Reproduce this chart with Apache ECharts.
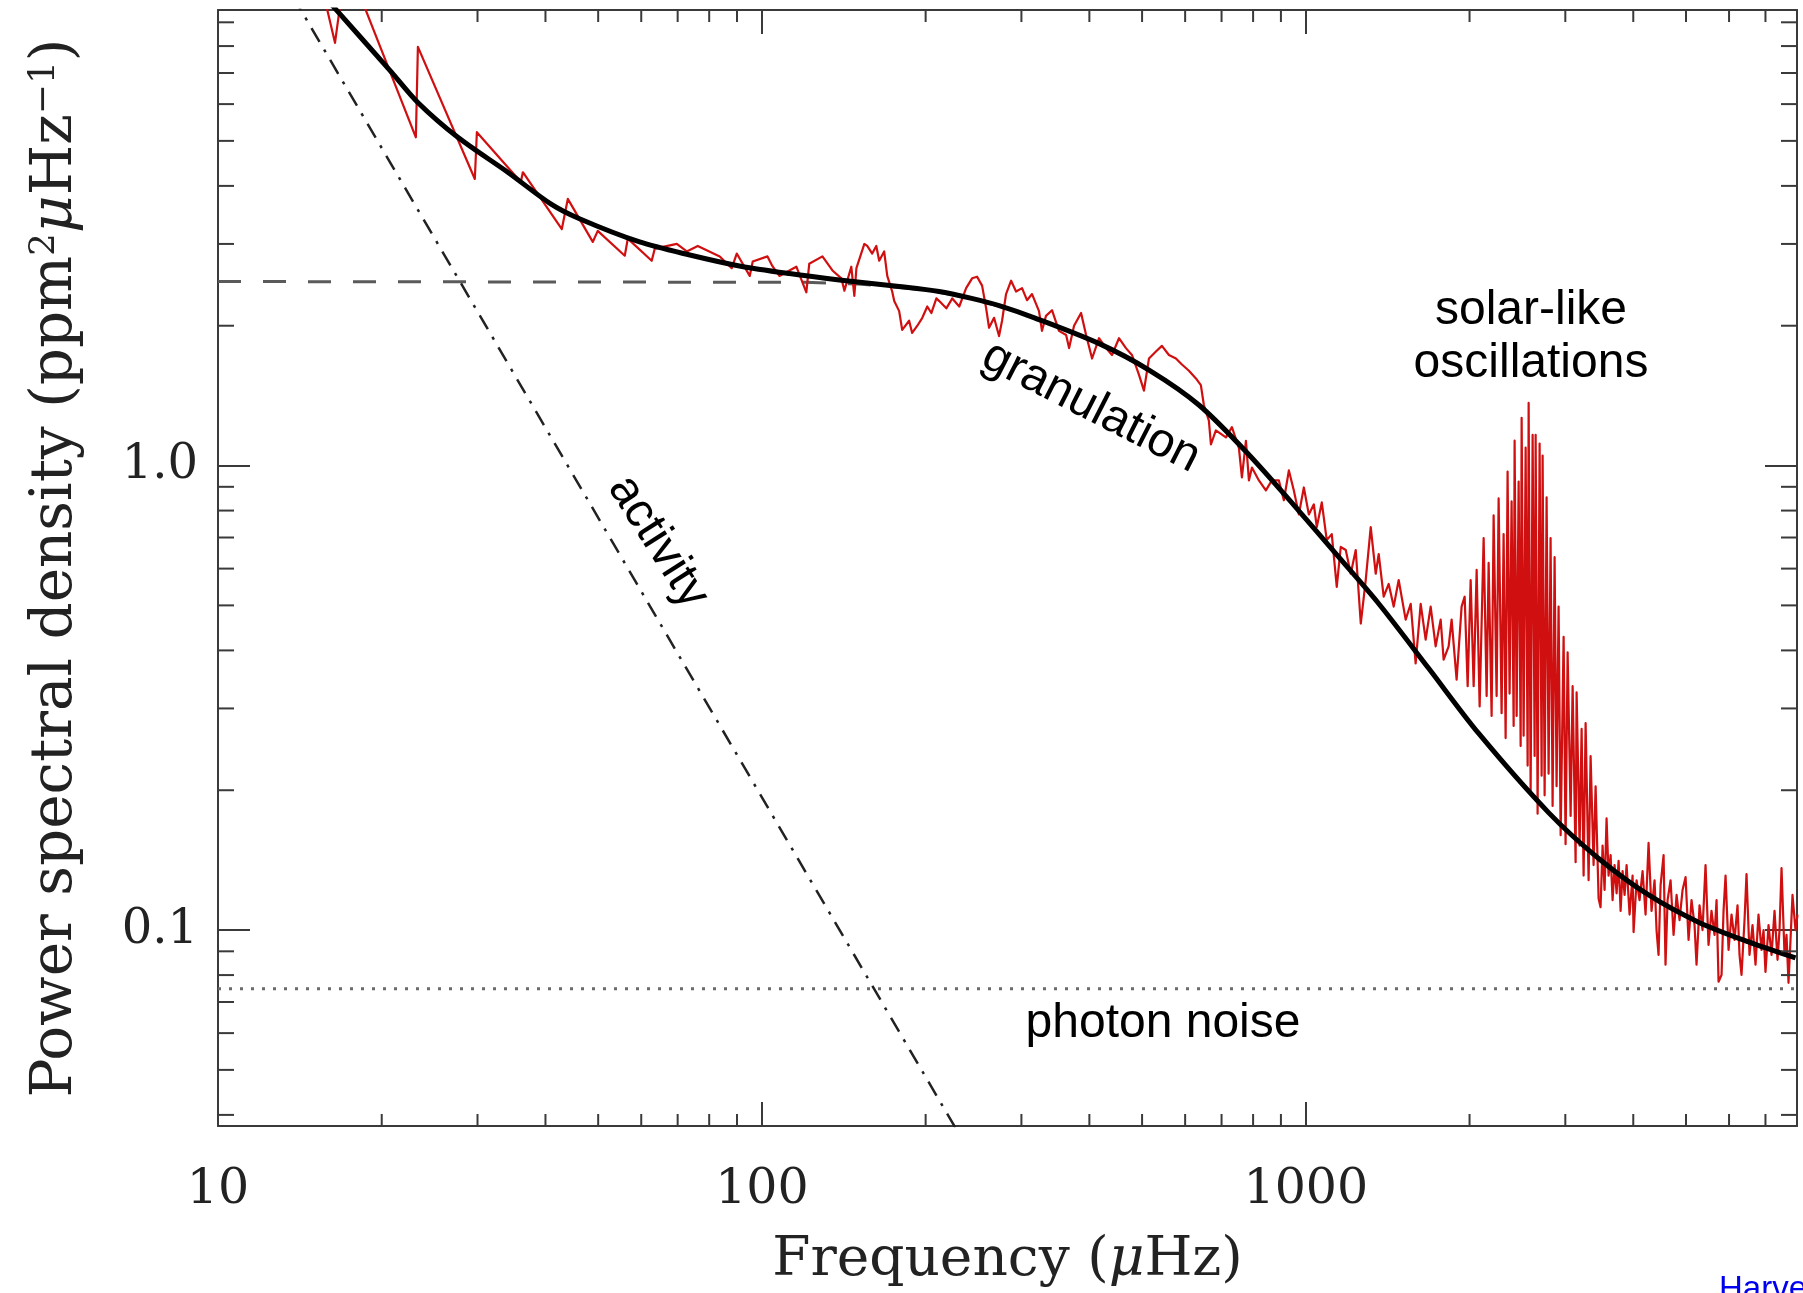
<!DOCTYPE html>
<html>
<head>
<meta charset="utf-8">
<script src="https://cdn.jsdelivr.net/npm/echarts@6/dist/echarts.min.js"></script>
<style>
  html, body { margin: 0; padding: 0; background: #ffffff; }
  #chart { width: 1803px; height: 1293px; }
</style>
</head>
<body>
<div id="chart"></div>
<script>
// ---------------- data (frequency in µHz, power in ppm^2/µHz) ----------------
const redSawtooth = [
  [15.27,11.65],[16.41,8.13],[17.11,11.65],[17.93,10.82],[23.11,5.09],[23.31,7.97],[29.66,4.14],[29.92,5.22],
  [36.04,4.08],[36.35,4.28],[42.87,3.23],[43.97,3.75],[48.87,3.03],[49.91,3.20],[55.96,2.83],[56.68,3.08],
  [62.72,2.76],[63.53,2.93],[69.75,3.00],[72.76,2.89],[76.22,2.97],[83.66,2.82],[88.02,2.66],[89.90,2.86],
  [94.98,2.56],[96.19,2.75],[102.4,2.82],[104.5,2.69],[107.7,2.56],[115.7,2.68],[120.7,2.36],[122.2,2.72],
  [129.2,2.82],[134.8,2.63],[140.0,2.53],[141.8,2.38],[146.0,2.68],[147.9,2.32],[149.2,2.66]
];
const redGranulation = [
  [154.3,3.00],[156.2,2.97],[159.5,2.86],[162.3,2.97],[164.3,2.76],[167.8,2.89],[170.0,2.56],[173.6,2.37],
  [175.1,2.26],[178.8,2.15],[181.1,1.96],[186.5,2.05],[188.9,1.93],[193.1,2.00],[197.2,2.08],[201.4,2.20],
  [204.9,2.13],[209.3,2.29],[211.9,2.26],[218.3,2.18],[223.9,2.29],[230.6,2.20],[237.4,2.41],[243.5,2.53],
  [248.7,2.55],[254.0,2.44],[258.4,2.18],[261.6,1.98],[267.2,2.08],[272.9,1.90],[276.4,2.05],[281.1,2.34],
  [287.2,2.50],[293.3,2.37],[300.8,2.41],[307.2,2.27],[313.8,2.34],[323.2,2.15],[327.3,1.95],[332.9,2.10],
  [341.5,2.16],[351.7,1.95],[362.5,1.91],[367.1,1.79],[374.9,2.00],[386.2,2.13],[394.5,1.91],[404.6,1.70],
  [416.7,1.88],[429.3,1.79],[440.3,1.73],[453.4,1.88],[467.0,1.79],[479.0,1.73],[493.4,1.57],[504.0,1.45],
  [514.8,1.70],[530.2,1.76],[543.8,1.81],[560.2,1.73],[577.1,1.70],[591.9,1.65],[609.7,1.60],[628.0,1.54],
  [641.3,1.49],[649.5,1.35],[663.4,1.25],[669.2,1.11],[683.3,1.19],[713.1,1.15],[731.4,1.21],[753.4,1.09],
  [763.0,0.943],[776.1,1.13],[786.0,0.929],[796.0,0.990],[819.9,0.929],[844.5,0.884],[866.2,0.929],[892.3,0.929],
  [911.3,0.842],[930.8,0.976],[950.6,0.884],[971.0,0.785],[991.7,0.897]
];
const redDecline = [
  [1012.9,0.785],[1034.7,0.825],[1047.6,0.737],[1070.0,0.833],[1092.8,0.691],[1116.2,0.712],[1140.0,0.548],
  [1159.5,0.668],[1184.3,0.658],[1209.5,0.585],[1235.4,0.658],[1262.0,0.457],[1288.7,0.567],[1316.3,0.737],
  [1344.4,0.585],[1361.6,0.645],[1390.6,0.522],[1420.4,0.556],[1450.7,0.497],[1481.7,0.567],[1526.2,0.466],
  [1559.1,0.504],[1592.0,0.375],[1626.3,0.504],[1661.0,0.422],[1696.5,0.497],[1732.8,0.408],[1769.8,0.466],
  [1792.3,0.382],[1830.7,0.408],[1853.9,0.466],[1893.5,0.346],[1934.0,0.497]
];
const redOscillation = [
  [1959.2,0.522],[1984.2,0.335],[2009.5,0.567],[2035.1,0.335],[2061.1,0.596],[2087.4,0.303],[2123.0,0.698],
  [2150.1,0.319],[2168.4,0.617],[2196.0,0.289],[2214.7,0.781],[2242.9,0.319],[2262.1,0.850],[2290.8,0.293],
  [2310.3,0.712],[2330.1,0.259],[2349.6,0.971],[2369.5,0.323],[2389.7,0.837],[2410.5,0.275],[2420.4,1.131],
  [2441.4,0.289],[2462.1,0.924],[2483.1,0.249],[2493.6,1.267],[2514.6,0.262],[2536.1,1.093],[2557.6,0.226],
  [2568.6,1.364],[2590.3,0.198],[2612.3,1.165],[2634.5,0.237],[2645.8,1.165],[2668.0,0.178],[2690.6,1.115],
  [2713.5,0.215],[2725.1,1.051],[2748.3,0.195],[2771.5,0.854],[2795.2,0.217],[2818.6,0.698],[2842.8,0.185],
  [2866.9,0.635],[2891.1,0.204],[2915.8,0.497],[2941.2,0.160],[2978.5,0.428],[3003.2,0.153],[3029.5,0.396],
  [3068.2,0.176],[3094.2,0.335],[3133.7,0.140],[3147.0,0.325],[3187.1,0.152],[3214.3,0.271],[3241.5,0.131],
  [3269.2,0.279],[3310.8,0.128],[3338.9,0.237],[3381.4,0.138],[3410.4,0.204],[3453.9,0.117]
];
const redHighFreq = [
  [3482.8,0.112],[3512.7,0.152],[3542.5,0.122],[3572.4,0.174],[3602.8,0.131],[3634.2,0.145],[3664.7,0.116],
  [3695.5,0.138],[3727.5,0.120],[3759.1,0.141],[3791.1,0.110],[3823.3,0.134],[3855.7,0.119],[3888.5,0.138],
  [3938.1,0.108],[3988.4,0.131],[4005.2,0.099],[4056.3,0.128],[4108.1,0.116],[4160.6,0.134],[4214.0,0.108],
  [4267.6,0.154],[4321.8,0.110],[4377.2,0.128],[4414.1,0.100],[4451.7,0.0884],[4490.5,0.125],[4547.6,0.145],
  [4585.2,0.0842],[4625.3,0.116],[4684.4,0.128],[4744.0,0.0976],[4804.8,0.119],[4866.0,0.105],[4928.2,0.122],
  [4991.3,0.130],[5054.9,0.0952],[5119.2,0.116],[5184.7,0.1025],[5228.5,0.0842],[5295.3,0.113],[5363.0,0.100],
  [5431.6,0.138],[5500.7,0.0929],[5570.7,0.110],[5642.1,0.0976],[5691.1,0.116],[5739.4,0.0774],[5812.7,0.0801],
  [5861.8,0.110],[5911.9,0.131],[5987.6,0.0906],[6063.6,0.108],[6141.3,0.0952],[6219.2,0.113],[6272.1,0.0884],
  [6325.4,0.0801],[6406.4,0.105],[6460.6,0.132],[6543.0,0.0884],[6626.7,0.1025],[6711.5,0.0842],[6796.8,0.108],
  [6883.4,0.0906],[6943.1,0.100],[7000.6,0.0813],[7091.8,0.1025],[7182.4,0.0884],[7274.0,0.110],[7366.8,0.0863],
  [7429.4,0.100],[7492.6,0.136],[7588.4,0.0884],[7652.5,0.0976],[7717.7,0.0770],[7783.1,0.0952],[7849.2,0.119],
  [7949.8,0.100],[8017.2,0.108]
];

const fitFreq  = [14, 16.5, 20.8, 23.3, 27.6, 34.1, 40.9, 46.2, 59.6, 73.7, 90.9, 112.3, 138.8, 178.8, 211.8, 243, 273, 317, 417, 515, 636, 786, 970, 1150, 1362, 1682, 2079, 2795, 3454, 4268, 5273, 6516, 7950];
const fitPower = [11.9, 9.57, 7.05, 6.05, 5.09, 4.28, 3.66, 3.40, 3.03, 2.84, 2.69, 2.59, 2.51, 2.43, 2.37, 2.29, 2.21, 2.08, 1.83, 1.605, 1.35, 1.055, 0.80, 0.635, 0.504, 0.366, 0.265, 0.179, 0.1426, 0.119, 0.104, 0.0943, 0.0871];

const granFreq  = [10, 120, 150, 200, 240, 270];
const granPower = [2.49, 2.48, 2.46, 2.39, 2.30, 2.21];

const activityFreq  = [10, 250];
const activityPower = [19.3, 0.0309];

const photonNoiseFreq  = [10, 8000];
const photonNoiseLevel = 0.0748;

const xRange = [10, 8000];
const yRange = [0.03786, 9.566];
const xMinorTicks = [20, 30, 40, 50, 60, 70, 80, 90, 200, 300, 400, 500, 600, 700, 800, 900, 2000, 3000, 4000, 5000, 6000, 7000];
const yMinorTicks = [0.04, 0.05, 0.06, 0.07, 0.08, 0.09, 0.2, 0.3, 0.4, 0.5, 0.6, 0.7, 0.8, 0.9, 2, 3, 4, 5, 6, 7, 8, 9];

const annotations = [
  { text: 'solar-like',   x: 1531, y: 311,  angle: 0 },
  { text: 'oscillations', x: 1531, y: 364,  angle: 0 },
  { text: 'granulation',  x: 1091, y: 407,  angle: -27 },
  { text: 'activity',     x: 658,  y: 542,  angle: -57.5 },
  { text: 'photon noise', x: 1163, y: 1024, angle: 0 }
];

// ---------------- styling ----------------
const AXIS_COLOR = '#3a3a3a';
const SERIF = '"DejaVu Serif", "Liberation Serif", serif';
const SANS = '"Liberation Sans", Arial, sans-serif';
const X_MAJOR_LEN = 24, Y_MAJOR_LEN = 32, X_MINOR_LEN = 12, Y_MINOR_LEN = 16;

const zip = (xs, ys) => xs.map((x, i) => [x, ys[i]]);
const redSpectrum = [].concat(redSawtooth, redGranulation, redDecline, redOscillation, redHighFreq);

function minorTickSeries(pairs, isX) {
  return {
    type: 'custom',
    silent: true,
    z: 6,
    data: pairs,
    renderItem: function (params, api) {
      const cs = params.coordSys;
      const p = api.coord([api.value(0), api.value(1)]);
      const st = { stroke: AXIS_COLOR, lineWidth: 2 };
      if (isX) {
        const yb = cs.y + cs.height, yt = cs.y;
        return { type: 'group', children: [
          { type: 'line', shape: { x1: p[0], y1: yb, x2: p[0], y2: yb - X_MINOR_LEN }, style: st },
          { type: 'line', shape: { x1: p[0], y1: yt, x2: p[0], y2: yt + X_MINOR_LEN }, style: st }
        ]};
      }
      const xl = cs.x, xr = cs.x + cs.width;
      return { type: 'group', children: [
        { type: 'line', shape: { x1: xl, y1: p[1], x2: xl + Y_MINOR_LEN, y2: p[1] }, style: st },
        { type: 'line', shape: { x1: xr, y1: p[1], x2: xr - Y_MINOR_LEN, y2: p[1] }, style: st }
      ]};
    }
  };
}

const axisLineStyle = { show: true, lineStyle: { color: AXIS_COLOR, width: 2 } };

const chart = echarts.init(document.getElementById('chart'), null, { renderer: 'canvas' });
chart.setOption({
  animation: false,
  backgroundColor: '#ffffff',
  grid: { left: 218, right: 6, top: 10, bottom: 161, containLabel: false },
  xAxis: [
    {
      type: 'log', logBase: 10, min: xRange[0], max: xRange[1], position: 'bottom',
      axisLine: axisLineStyle,
      axisTick: { show: true, inside: true, length: X_MAJOR_LEN, lineStyle: { color: AXIS_COLOR, width: 2 } },
      splitLine: { show: false },
      axisLabel: {
        show: true, margin: 40, showMaxLabel: false,
        fontFamily: SERIF, fontSize: 49, color: '#222',
        formatter: v => String(Math.round(v))
      },
      name: '{t|Frequency (}{m|μ}{t|Hz)}',
      nameLocation: 'middle', nameGap: 107,
      nameTextStyle: {
        rich: {
          t: { fontFamily: SERIF, fontSize: 55, color: '#222' },
          m: { fontFamily: SERIF, fontSize: 55, fontStyle: 'italic', color: '#222' }
        }
      }
    },
    {
      type: 'log', logBase: 10, min: xRange[0], max: xRange[1], position: 'top',
      axisLine: axisLineStyle,
      axisTick: { show: true, inside: true, length: X_MAJOR_LEN, lineStyle: { color: AXIS_COLOR, width: 2 } },
      splitLine: { show: false },
      axisLabel: { show: false }
    }
  ],
  yAxis: [
    {
      type: 'log', logBase: 10, min: yRange[0], max: yRange[1], position: 'left',
      axisLine: axisLineStyle,
      axisTick: { show: true, inside: true, length: Y_MAJOR_LEN, lineStyle: { color: AXIS_COLOR, width: 2 } },
      splitLine: { show: false },
      axisLabel: {
        show: true, margin: 20, showMinLabel: false, showMaxLabel: false,
        fontFamily: SERIF, fontSize: 48, color: '#222',
        formatter: v => (v < 0.5 ? String(Math.round(v * 10) / 10) : (Math.round(v * 10) / 10).toFixed(1))
      },
      name: '{t|Power spectral density (ppm}{s|2}{m|μ}{t|Hz}{s|−1}{t|)}',
      nameLocation: 'middle', nameGap: 133, nameRotate: 90,
      nameTextStyle: {
        rich: {
          t: { fontFamily: SERIF, fontSize: 58, color: '#222' },
          s: { fontFamily: SERIF, fontSize: 36, color: '#222', verticalAlign: 'top' },
          m: { fontFamily: SERIF, fontSize: 58, fontStyle: 'italic', color: '#222' }
        }
      }
    },
    {
      type: 'log', logBase: 10, min: yRange[0], max: yRange[1], position: 'right',
      axisLine: axisLineStyle,
      axisTick: { show: true, inside: true, length: Y_MAJOR_LEN, lineStyle: { color: AXIS_COLOR, width: 2 } },
      splitLine: { show: false },
      axisLabel: { show: false }
    }
  ],
  series: [
    {
      name: 'granulation component', type: 'line', symbol: 'none', clip: true, z: 2,
      data: zip(granFreq, granPower),
      lineStyle: { color: '#5a5a5a', width: 3, type: [23, 22] }
    },
    {
      name: 'photon noise', type: 'line', symbol: 'none', clip: true, z: 2,
      data: photonNoiseFreq.map(f => [f, photonNoiseLevel]),
      lineStyle: { color: '#6a6a6a', width: 3, type: [3, 8] }
    },
    {
      name: 'activity', type: 'line', symbol: 'none', clip: true, z: 2,
      data: zip(activityFreq, activityPower),
      lineStyle: { color: '#222', width: 2.5, type: [16, 9, 3, 9] }
    },
    {
      name: 'spectrum', type: 'line', symbol: 'none', clip: true, z: 3, sampling: null,
      data: redSpectrum,
      lineStyle: { color: '#d01010', width: 2.2, join: 'round' }
    },
    {
      name: 'fit', type: 'line', symbol: 'none', clip: true, z: 4,
      smooth: 0.3,
      data: zip(fitFreq, fitPower),
      lineStyle: { color: '#000', width: 5 }
    },
    minorTickSeries(xMinorTicks.map(v => [v, 1]), true),
    minorTickSeries(yMinorTicks.map(v => [100, v]), false)
  ],
  graphic: annotations.map(a => ({
    type: 'text', x: a.x, y: a.y, rotation: a.angle * Math.PI / 180, z: 10,
    style: { text: a.text, font: '48px ' + SANS, fill: '#000', align: 'center', verticalAlign: 'middle' }
  })).concat([{
    type: 'text', x: 1719, y: 1290, z: 10,
    style: { text: 'Harvey', font: '33px ' + SANS, fill: '#0000ee', align: 'left', verticalAlign: 'middle' }
  }])
});
</script>
</body>
</html>
